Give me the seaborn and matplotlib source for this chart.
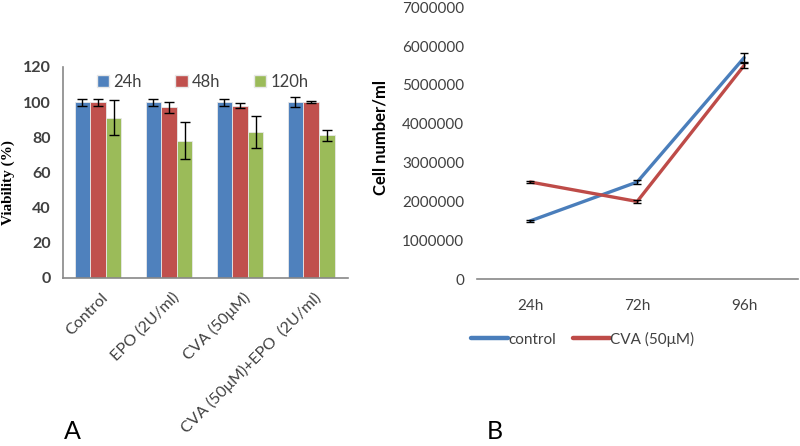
import matplotlib
matplotlib.use("Agg")
import matplotlib.pyplot as plt
import matplotlib.transforms as mtrans
from matplotlib.patches import Patch
import pandas as pd
import seaborn as sns

# Panel A: viability (%)
groups = ["Control", "EPO (2U/ml)", "CVA (50μM)", "CVA (50μM)+EPO  (2U/ml)"]
times_a = ["24h", "48h", "120h"]
viab_24 = [100, 100, 100, 100]
viab_48 = [100, 97, 98, 100]
viab_120 = [91, 78, 83, 81]
err_24 = [2, 2, 2, 3]
err_48 = [2, 3, 1.5, 0.8]
err_120 = [10, 10.5, 9, 3]

# Panel B: cell number/ml
times_b = ["24h", "72h", "96h"]
cells_control = [1500000, 2500000, 5700000]
cells_cva = [2500000, 2000000, 5500000]
cerr_control = [20000, 60000, 110000]
cerr_cva = [20000, 30000, 60000]

sns.set_theme(style="white")
plt.rcParams["font.family"] = ["Lato", "DejaVu Sans"]
tick_col = "#404040"

bar_colors = ["#4F81BD", "#C0504D", "#9BBB59"]
line_colors = ["#4A7EBB", "#BE4B48"]

rows = []
for t, vals, errs in zip(times_a, [viab_24, viab_48, viab_120], [err_24, err_48, err_120]):
    for g, v, e in zip(groups, vals, errs):
        rows.append({"group": g, "time": t, "value": v, "err": e})
df_a = pd.DataFrame(rows)

fig = plt.figure(figsize=(8, 4.46), dpi=100)

# ---- Panel A ----
ax1 = fig.add_axes([0.079, 0.377, 0.356, 0.473])
sns.barplot(data=df_a, x="group", y="value", hue="time", palette=bar_colors,
            width=0.66, gap=0, errorbar=None, edgecolor="#e8e8e8", linewidth=0.6,
            saturation=1, legend=False, ax=ax1)
# error bars at bar centres
for i, t in enumerate(times_a):
    cont = ax1.containers[i]
    sub = df_a[df_a["time"] == t]
    xs = [p.get_x() + p.get_width() / 2 for p in cont.patches]
    ax1.errorbar(xs, sub["value"], yerr=sub["err"], fmt="none", ecolor="black",
                 elinewidth=1, capsize=3.5, capthick=1)
ax1.set_ylim(0, 120)
ax1.set_xlim(-0.49, 3.52)
ax1.set_yticks(range(0, 121, 20))
ax1.set_xlabel("")
ax1.set_ylabel("Viability (%)", fontsize=11, fontweight="bold",
               family="Liberation Serif", color="black")
ax1.yaxis.set_label_coords(-0.17, 0.45)
ax1.tick_params(axis="y", labelsize=11.5, colors=tick_col, length=0, pad=9)
ax1.tick_params(axis="x", length=0, pad=9)
for lab in ax1.get_yticklabels():
    lab.set_fontweight("bold")
ax1.set_xticks(range(len(groups)))
ax1.set_xticklabels(groups, rotation=45, ha="right", rotation_mode="anchor",
                    fontsize=11.5, color=tick_col)
shift = mtrans.ScaledTranslation(2 / 72, 0, fig.dpi_scale_trans)
for lab in ax1.get_xticklabels():
    lab.set_transform(lab.get_transform() + shift)
for s in ["top", "right"]:
    ax1.spines[s].set_visible(False)
for s in ["left", "bottom"]:
    ax1.spines[s].set_color("#888888")
    ax1.spines[s].set_linewidth(1.2)
handles = [Patch(facecolor=c, edgecolor="#e8e8e8") for c in bar_colors]
ax1.legend(handles, times_a, ncol=3, loc="center", bbox_to_anchor=(0.49, 0.93),
           frameon=False, fontsize=12, handlelength=0.75, handleheight=0.75,
           handletextpad=0.25, columnspacing=2.0, labelcolor=tick_col)

# ---- Panel B ----
df_b = pd.DataFrame({
    "time": times_b * 2,
    "cells": cells_control + cells_cva,
    "err": cerr_control + cerr_cva,
    "series": ["control"] * 3 + ["CVA (50μM)"] * 3,
})
ax2 = fig.add_axes([0.596, 0.374, 0.401, 0.61])
sns.lineplot(data=df_b, x="time", y="cells", hue="series", palette=line_colors,
             linewidth=2.4, sort=False, legend=False, ax=ax2)
for (name, sub), c in zip(df_b.groupby("series", sort=False), line_colors):
    ax2.errorbar(sub["time"], sub["cells"], yerr=sub["err"], fmt="none",
                 ecolor="black", elinewidth=1, capsize=3, capthick=1)
ax2.set_xlim(-0.5, 2.5)
ax2.set_ylim(0, 7000000)
ax2.set_yticks(range(0, 7000001, 1000000))
ax2.ticklabel_format(axis="y", style="plain", useOffset=False)
ax2.set_xlabel("")
ax2.set_ylabel("Cell number/ml", fontsize=12, fontweight="bold", color="black")
ax2.yaxis.set_label_coords(-0.275, 0.52)
ax2.tick_params(axis="y", labelsize=11, colors=tick_col, length=0, pad=9)
ax2.tick_params(axis="x", labelsize=11, colors=tick_col, length=0, pad=14)
for s in ["top", "right", "left"]:
    ax2.spines[s].set_visible(False)
ax2.spines["bottom"].set_color("#888888")
ax2.spines["bottom"].set_linewidth(1.2)
lh = [plt.Line2D([], [], color=c, lw=3.2) for c in line_colors]
ax2.legend(lh, ["control", "CVA (50μM)"], ncol=2, loc="center",
           bbox_to_anchor=(0.33, -0.22), frameon=False, fontsize=11,
           handlelength=2.4, handletextpad=0.05, columnspacing=1.1,
           labelcolor=tick_col)

fig.text(0.08, 0.015, "A", fontsize=18, color="black")
fig.text(0.608, 0.015, "B", fontsize=18, color="black")

fig.savefig("out.png", dpi=100)
